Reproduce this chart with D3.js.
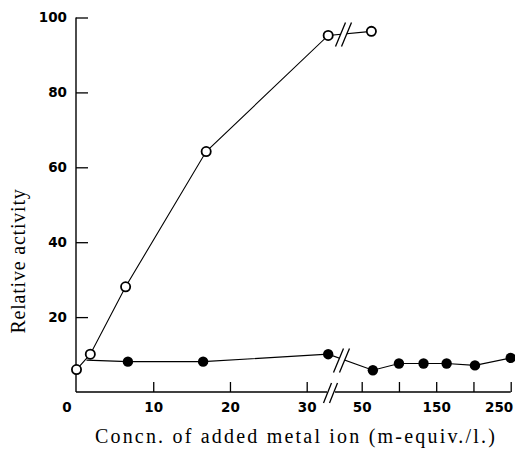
<!DOCTYPE html>
<html>
<head>
<meta charset="utf-8">
<script src="https://cdn.jsdelivr.net/npm/d3@7"></script>
<style>
  body { margin: 0; background: #fff; }
</style>
</head>
<body>
<div id="chart"></div>
<script>
// values: x = concn. (m-equiv./l.), y = relative activity
const openX = [0, 1.8, 6.4, 16.9, 32.8, 63];
const openY = [6.0, 10.1, 28.1, 64.2, 95.2, 96.3];
// first filled point sits under the second open circle (no marker of its own)
const filledX = [1.3, 6.7, 16.5, 32.8, 65, 100, 133, 164, 202, 250];
const filledY = [8.5, 8.1, 8.1, 10.1, 5.8, 7.6, 7.6, 7.6, 7.1, 9.1];

const yTicks = [20, 40, 60, 80, 100];
const xTicksLeft = [0, 10, 20, 30];
const xTicksRight = [50, 100, 150, 200, 250];
const xLabelsRight = ["50", "", "150", "", "250"];

const width = 515, height = 449;

const svg = d3.select("#chart").append("svg")
    .attr("width", width)
    .attr("height", height);

// broken x axis: two linear pieces
let xLeft = d3.scaleLinear().domain([0, 30]).range([76.5, 306.7]);
let xRight = d3.scaleLinear().domain([50, 250]).range([361.7, 510.7]);
let x = v => v <= 40 ? xLeft(v) : xRight(v);
let y = d3.scaleLinear().domain([0, 100]).range([392, 17.5]);

const axisY = 392, axisX = 76;
const tickFont = "bold 13.5px 'DejaVu Sans', sans-serif";

// y axis
let yAxis = svg.append("g")
    .attr("transform", `translate(${axisX},0)`)
    .call(d3.axisLeft(y).tickValues(yTicks).tickSize(-12).tickSizeOuter(0).tickPadding(9));
yAxis.select(".domain").remove();
svg.append("line")
    .attr("x1", axisX).attr("x2", axisX)
    .attr("y1", y(0)).attr("y2", y(100))
    .attr("stroke", "#000").attr("stroke-width", 1.4);

// x axis, left piece
let xAxisL = svg.append("g")
    .attr("transform", `translate(0,${axisY})`)
    .call(d3.axisBottom(xLeft).tickValues(xTicksLeft).tickSize(-10).tickSizeOuter(0).tickPadding(10));
// x axis, right piece
let xAxisR = svg.append("g")
    .attr("transform", `translate(0,${axisY})`)
    .call(d3.axisBottom(xRight).tickValues(xTicksRight).tickSize(-10).tickSizeOuter(0).tickPadding(10)
        .tickFormat((d, i) => xLabelsRight[i]));
xAxisL.select(".domain").remove();
xAxisR.select(".domain").remove();

// the corner "0" sits left of the origin
xAxisL.selectAll(".tick").filter(d => d === 0).select("line").remove();
xAxisL.selectAll(".tick").filter(d => d === 0).select("text").attr("dx", -10);
xAxisR.selectAll(".tick").filter(d => d === 250).select("text")
    .attr("text-anchor", "end").attr("dx", 2);

svg.selectAll(".tick line").attr("stroke", "#000").attr("stroke-width", 1.3);
svg.selectAll(".tick text")
    .style("font", tickFont)
    .attr("fill", "#000");

svg.append("line")
    .attr("x1", axisX).attr("x2", 327)
    .attr("y1", axisY).attr("y2", axisY)
    .attr("stroke", "#000").attr("stroke-width", 1.4);
svg.append("line")
    .attr("x1", 335).attr("x2", xRight(250))
    .attr("y1", axisY).attr("y2", axisY)
    .attr("stroke", "#000").attr("stroke-width", 1.4);

// series lines
let line = d3.line().x(d => x(d[0])).y(d => y(d[1]));
let openData = openX.map((v, i) => [v, openY[i]]);
let filledData = filledX.map((v, i) => [v, filledY[i]]);

svg.append("path")
    .datum(filledData)
    .attr("d", line)
    .attr("fill", "none").attr("stroke", "#000").attr("stroke-width", 1.1);
svg.append("path")
    .datum(openData)
    .attr("d", line)
    .attr("fill", "none").attr("stroke", "#000").attr("stroke-width", 1.1);

// "//" break marks
function drawBreak(cx, cy, h, dx, gap) {
    let g = svg.append("g");
    g.append("polygon")
        .attr("points", [
            [cx - gap / 2 - dx, cy + h], [cx - gap / 2 + dx, cy - h],
            [cx + gap / 2 + dx, cy - h], [cx + gap / 2 - dx, cy + h]
        ].map(p => p.join(",")).join(" "))
        .attr("fill", "#fff");
    [-gap / 2, gap / 2].forEach(o => {
        g.append("line")
            .attr("x1", cx + o - dx).attr("y1", cy + h)
            .attr("x2", cx + o + dx).attr("y2", cy - h)
            .attr("stroke", "#000").attr("stroke-width", 1.3);
    });
}
drawBreak(330.5, 393, 10, 4, 6);
drawBreak(341.5, 360.5, 12, 5, 6);
drawBreak(343.5, 34.5, 12, 5, 6);

// markers
svg.selectAll(".filled")
    .data(filledData.filter((d, i) => i > 0))
    .enter().append("circle")
    .attr("class", "filled")
    .attr("cx", d => x(d[0]))
    .attr("cy", d => y(d[1]))
    .attr("r", 5.2)
    .attr("fill", "#000");

svg.selectAll(".open")
    .data(openData)
    .enter().append("circle")
    .attr("class", "open")
    .attr("cx", d => x(d[0]))
    .attr("cy", d => y(d[1]))
    .attr("r", 4.6)
    .attr("fill", "#fff")
    .attr("stroke", "#000")
    .attr("stroke-width", 1.8);

// axis titles
svg.append("text")
    .attr("x", 296)
    .attr("y", 443)
    .attr("text-anchor", "middle")
    .style("font", "20px 'Liberation Serif', serif")
    .style("letter-spacing", "2.2px")
    .text("Concn. of added metal ion (m-equiv./l.)");

svg.append("text")
    .attr("transform", "translate(25,261) rotate(-90)")
    .attr("text-anchor", "middle")
    .style("font", "20px 'Liberation Serif', serif")
    .style("letter-spacing", "0.8px")
    .text("Relative activity");
</script>
</body>
</html>
